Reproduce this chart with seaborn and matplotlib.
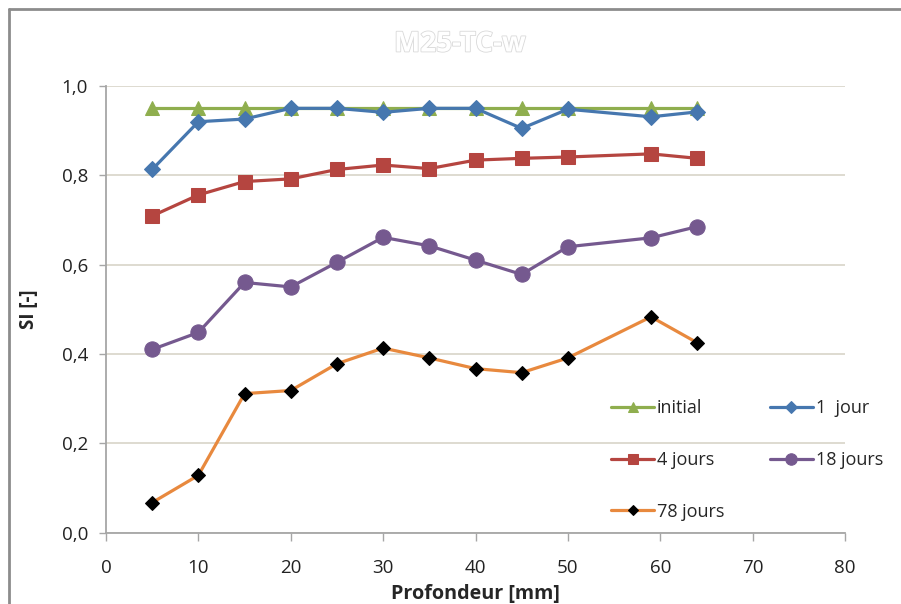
import pandas as pd
import seaborn as sns
import matplotlib.pyplot as plt
import matplotlib.patheffects as pe
from matplotlib.lines import Line2D

# Depth values (mm) and SI readings per series
profondeur = [5, 10, 15, 20, 25, 30, 35, 40, 45, 50, 59, 64]
si_initial = [0.95] * 12
si_1_jour = [0.813, 0.920, 0.926, 0.950, 0.950, 0.941, 0.950, 0.950, 0.905, 0.948, 0.931, 0.942]
si_4_jours = [0.709, 0.756, 0.786, 0.792, 0.813, 0.823, 0.815, 0.834, 0.838, 0.841, 0.848, 0.838]
si_18_jours = [0.410, 0.448, 0.560, 0.550, 0.605, 0.661, 0.642, 0.610, 0.578, 0.640, 0.660, 0.685]
si_78_jours = [0.067, 0.128, 0.311, 0.318, 0.378, 0.413, 0.391, 0.367, 0.358, 0.391, 0.483, 0.425]

labels = ["initial", "1  jour", "4 jours", "18 jours", "78 jours"]
x_ticks = [0, 10, 20, 30, 40, 50, 60, 70, 80]
y_ticks = [0.0, 0.2, 0.4, 0.6, 0.8, 1.0]
y_tick_labels = ["0,0", "0,2", "0,4", "0,6", "0,8", "1,0"]

sns.set_style("white")
plt.rcParams["font.family"] = ["Open Sans", "DejaVu Sans"]

fig = plt.figure(figsize=(9.01, 6.04), dpi=100)
ax = fig.add_axes([106 / 901, 71.5 / 604, 739 / 901, 446.5 / 604])

# line styles per series: color, marker, marker size, face color
styles = [
    ("#8FAE4E", "^", 10, "#8FAE4E"),
    ("#4677AF", "D", 8, "#4677AF"),
    ("#B54540", "s", 10, "#B54540"),
    ("#75598F", "o", 11, "#75598F"),
    ("#E8893E", "D", 7, "black"),
]
series = [si_initial, si_1_jour, si_4_jours, si_18_jours, si_78_jours]

for vals, lab, (col, mk, ms, fc) in zip(series, labels, styles):
    df = pd.DataFrame({"x": profondeur, "y": vals})
    sns.lineplot(data=df, x="x", y="y", ax=ax, color=col, marker=mk,
                 markersize=ms, markerfacecolor=fc, markeredgecolor=fc,
                 linewidth=2.3, label=lab)

ax.set_xlim(0, 80)
ax.set_ylim(0, 1.0)
ax.set_xticks(x_ticks)
ax.set_yticks(y_ticks)
ax.set_yticklabels(y_tick_labels)
ax.yaxis.grid(True, color="#D8D4C8", linewidth=1.2)
ax.set_axisbelow(True)
for s in ["top", "right"]:
    ax.spines[s].set_visible(False)
for s in ["left", "bottom"]:
    ax.spines[s].set_color("#A6A6A6")
    ax.spines[s].set_linewidth(1.3)
ax.tick_params(axis="x", direction="out", length=6, width=1, color="#A6A6A6",
               labelsize=13.5, pad=13, labelcolor="#222222")
ax.tick_params(axis="y", direction="out", length=5, width=1, color="#A6A6A6",
               labelsize=13.5, pad=8, labelcolor="#222222")
ax.tick_params(bottom=True, left=True)

ax.set_xlabel("Profondeur [mm]", fontsize=14.2, fontweight="bold", labelpad=5)
ax.set_ylabel("SI [-]", fontsize=13.5, fontweight="bold", labelpad=16)

# row-wise legend order, as in the reference
h, l = ax.get_legend_handles_labels()
order = [0, 2, 4, 1, 3]
ax.legend([h[i] for i in order], [l[i] for i in order],
          loc="center", bbox_to_anchor=(747 / 901, 1 - 460 / 604),
          bbox_transform=fig.transFigure, ncol=2, frameon=False,
          fontsize=13, handlelength=2.4, handletextpad=0.15,
          columnspacing=2.5, labelspacing=1.87, markerscale=0.75)

fig.text(460 / 901, 1 - 44 / 604, "M25-TC-w", ha="center", va="center",
         fontsize=20, fontweight="bold", color="white",
         path_effects=[pe.withStroke(linewidth=1.2, foreground="#D9D9D9")])

# outer chart border, cut at right and bottom edges
fig.add_artist(Line2D([8.5 / 901, 8.5 / 901], [0, 1 - 9 / 604],
                      transform=fig.transFigure, color="#8C8C8C", linewidth=2))
fig.add_artist(Line2D([8.5 / 901, 1], [1 - 9 / 604, 1 - 9 / 604],
                      transform=fig.transFigure, color="#8C8C8C", linewidth=2))

fig.savefig("out.png", dpi=100)
